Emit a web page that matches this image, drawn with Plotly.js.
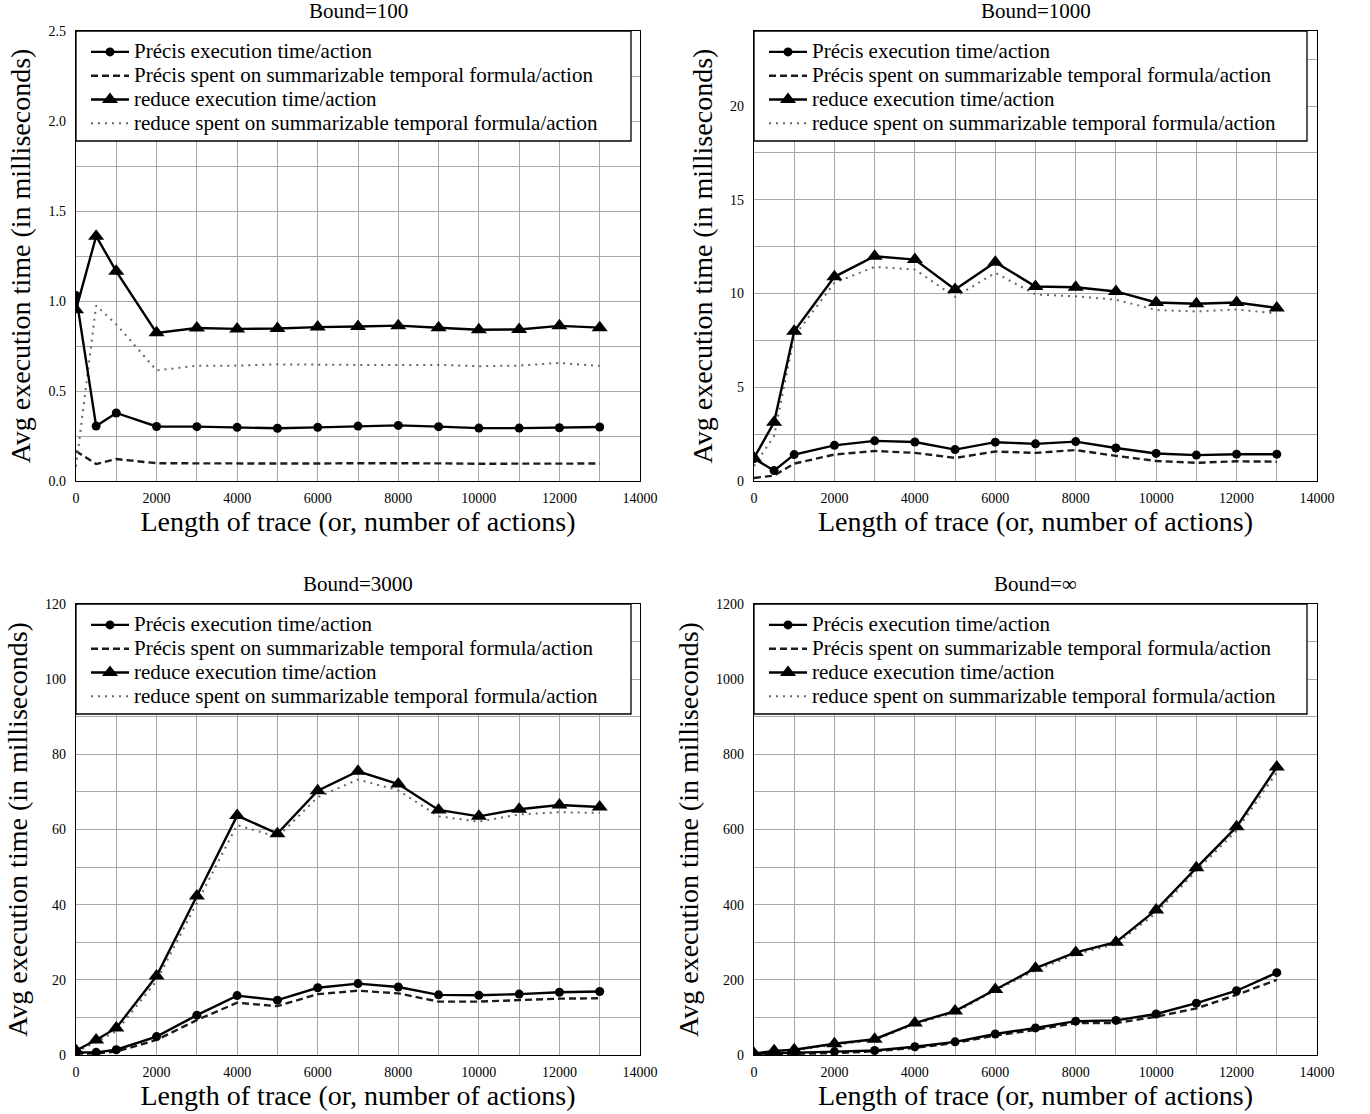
<!DOCTYPE html>
<html>
<head>
<meta charset="utf-8">
<script src="https://cdn.plot.ly/plotly-3.0.1.min.js"></script>
<style>html,body{margin:0;padding:0;background:#fff}#chart{width:1370px;height:1114px}</style>
</head>
<body>
<div id="chart"></div>
<script>
// ---------- data ----------
const traceLength = [0, 500, 1000, 2000, 3000, 4000, 5000, 6000, 7000, 8000, 9000, 10000, 11000, 12000, 13000];

const seriesNames = [
  'Précis execution time/action',
  'Précis spent on summarizable temporal formula/action',
  'reduce execution time/action',
  'reduce spent on summarizable temporal formula/action'
];

const panelTitles = ['Bound=100', 'Bound=1000', 'Bound=3000', 'Bound=∞'];
const xAxisTitle = 'Length of trace (or, number of actions)';
const yAxisTitle = 'Avg execution time (in milliseconds)';

// Bound = 100
const b100PrecisExec  = [1.03, 0.305, 0.378, 0.303, 0.302, 0.298, 0.293, 0.298, 0.305, 0.309, 0.302, 0.294, 0.294, 0.296, 0.300];
const b100PrecisSpent = [0.166, 0.094, 0.122, 0.099, 0.098, 0.097, 0.096, 0.097, 0.099, 0.100, 0.098, 0.096, 0.096, 0.097, 0.097];
const b100ReduceExec  = [0.952, 1.36, 1.165, 0.823, 0.850, 0.845, 0.847, 0.855, 0.858, 0.863, 0.851, 0.840, 0.842, 0.862, 0.852];
const b100ReduceSpent = [0.08, 0.975, 0.87, 0.615, 0.640, 0.641, 0.648, 0.645, 0.645, 0.645, 0.645, 0.638, 0.641, 0.656, 0.639];

// Bound = 1000
const b1000PrecisExec  = [1.2, 0.555, 1.41, 1.9, 2.14, 2.08, 1.675, 2.07, 1.98, 2.1, 1.76, 1.47, 1.38, 1.43, 1.43];
const b1000PrecisSpent = [0.16, 0.29, 0.93, 1.41, 1.6, 1.5, 1.23, 1.57, 1.5, 1.65, 1.34, 1.07, 0.97, 1.05, 1.03];
const b1000ReduceExec  = [1.23, 3.13, 7.99, 10.89, 11.99, 11.81, 10.21, 11.67, 10.37, 10.33, 10.11, 9.52, 9.45, 9.52, 9.23];
const b1000ReduceSpent = [0.8, 2.4, 7.72, 10.57, 11.42, 11.28, 9.82, 11.1, 9.95, 9.85, 9.67, 9.12, 9.04, 9.15, 8.93];

// Bound = 3000
const b3000PrecisExec  = [0.7, 0.7, 1.4, 4.9, 10.6, 15.8, 14.6, 17.9, 19.0, 18.1, 16.0, 15.9, 16.2, 16.7, 16.9];
const b3000PrecisSpent = [0.4, 0.4, 0.9, 4.0, 9.3, 13.9, 13.0, 16.2, 17.1, 16.4, 14.2, 14.2, 14.6, 15.0, 15.1];
const b3000ReduceExec  = [1.2, 4.0, 7.2, 21.0, 42.3, 63.7, 58.9, 70.3, 75.5, 72.1, 65.2, 63.5, 65.4, 66.5, 66.0];
const b3000ReduceSpent = [0.7, 3.5, 6.3, 19.7, 40.4, 61.2, 58.0, 68.6, 73.3, 70.4, 63.5, 62.1, 64.0, 64.6, 64.4];

// Bound = infinity
const bInfPrecisExec  = [3, 5, 6, 9, 12, 22, 35, 56, 72, 90, 92, 109, 138, 171, 219];
const bInfPrecisSpent = [1, 2, 3, 5, 10, 19, 32, 52, 67, 85, 85, 102, 124, 160, 200];
const bInfReduceExec  = [4, 11, 14, 30, 42, 85, 117, 174, 231, 273, 300, 386, 498, 607, 766];
const bInfReduceSpent = [2, 8, 12, 27, 40, 82, 113, 172, 225, 268, 295, 378, 490, 597, 752];

// ---------- layout helpers ----------
const W = 1370, H = 1114;
const FONT = 'Liberation Serif, Times New Roman, serif';
const GRID = '#a8a8a8';

const panels = [
  {series: [b100PrecisExec, b100PrecisSpent, b100ReduceExec, b100ReduceSpent],
   yRange: [0, 2.5], yDtick: 0.5, yMinor: 0.25, yFormat: '.1f', box: [76, 640, 31, 481], legRight: 631},
  {series: [b1000PrecisExec, b1000PrecisSpent, b1000ReduceExec, b1000ReduceSpent],
   yRange: [0, 24], yDtick: 5, yMinor: 2.5, yFormat: 'd', box: [754, 1317, 31, 481], legRight: 1307},
  {series: [b3000PrecisExec, b3000PrecisSpent, b3000ReduceExec, b3000ReduceSpent],
   yRange: [0, 120], yDtick: 20, yMinor: 10, yFormat: 'd', box: [76, 640, 604, 1055], legRight: 631},
  {series: [bInfPrecisExec, bInfPrecisSpent, bInfReduceExec, bInfReduceSpent],
   yRange: [0, 1200], yDtick: 200, yMinor: 100, yFormat: 'd', box: [754, 1317, 604, 1055], legRight: 1307}
];

const styles = [
  {mode: 'lines+markers', line: {color: '#000', width: 2.4}, marker: {symbol: 'circle', size: 9, color: '#000'}, rank: 1},
  {mode: 'lines', line: {color: '#1c1c1c', width: 2.4, dash: '7px,4px'}, rank: 2},
  {mode: 'lines+markers', line: {color: '#000', width: 2.4}, marker: {symbol: 'triangle-up', size: 14, color: '#000'}, rank: 3},
  {mode: 'lines', line: {color: '#666', width: 2, dash: '2px,5px'}, rank: 4}
];
const drawOrder = [1, 3, 0, 2];

const traces = [];
const layout = {
  width: W, height: H,
  margin: {l: 0, r: 0, t: 0, b: 0},
  paper_bgcolor: '#fff', plot_bgcolor: '#fff',
  font: {family: FONT, color: '#000'},
  annotations: [], shapes: []
};

panels.forEach((p, k) => {
  const s = k === 0 ? '' : String(k + 1);
  const legName = k === 0 ? 'legend' : 'legend' + (k + 1);
  drawOrder.forEach(i => {
    const st = styles[i];
    const t = {
      type: 'scatter', x: traceLength, y: p.series[i],
      name: '<span style="font-size:21px">' + seriesNames[i] + '</span>',
      mode: st.mode, line: st.line, xaxis: 'x' + s, yaxis: 'y' + s,
      legend: legName, legendrank: st.rank, hoverinfo: 'skip'
    };
    if (st.marker) t.marker = st.marker;
    traces.push(t);
  });
  const [x0, x1, yt, yb] = p.box;
  layout['xaxis' + s] = {
    domain: [x0 / W, x1 / W], anchor: 'y' + s,
    range: [0, 14000], tick0: 0, dtick: 2000, tickformat: 'd',
    showgrid: true, gridcolor: GRID, gridwidth: 1,
    minor: {dtick: 1000, tick0: 0, showgrid: true, gridcolor: GRID, gridwidth: 1, ticks: ''},
    showline: true, mirror: true, linecolor: '#000', linewidth: 1.3,
    zeroline: false, ticks: '', automargin: false, ticklabelstandoff: 4,
    tickfont: {family: FONT, size: 14, color: '#000'},
    title: {text: xAxisTitle, font: {family: FONT, size: 28, color: '#000'}, standoff: 5}
  };
  layout['yaxis' + s] = {
    domain: [1 - yb / H, 1 - yt / H], anchor: 'x' + s,
    range: p.yRange, tick0: 0, dtick: p.yDtick, tickformat: p.yFormat,
    showgrid: true, gridcolor: GRID, gridwidth: 1,
    minor: {dtick: p.yMinor, tick0: 0, showgrid: true, gridcolor: GRID, gridwidth: 1, ticks: ''},
    showline: true, mirror: true, linecolor: '#000', linewidth: 1.3,
    zeroline: false, ticks: '', automargin: false, ticklabelstandoff: 6,
    tickfont: {family: FONT, size: 14, color: '#000'},
    title: {text: yAxisTitle, font: {family: FONT, size: 28, color: '#000'}, standoff: 9}
  };
  layout[legName] = {
    x: (x0 + 10) / W, y: 1 - (yt + 4) / H, xanchor: 'left', yanchor: 'top',
    bgcolor: 'rgba(0,0,0,0)', borderwidth: 0, itemwidth: 38,
    font: {family: FONT, size: 16, color: '#000'}
  };
  layout.shapes.push({
    type: 'rect', xref: 'paper', yref: 'paper', layer: 'above',
    x0: x0 / W, x1: p.legRight / W, y0: 1 - yt / H, y1: 1 - (yt + 110) / H,
    fillcolor: '#fff', line: {color: '#000', width: 1.3}
  });
  layout.annotations.push({
    text: panelTitles[k], xref: 'paper', yref: 'paper',
    x: (x0 + x1) / 2 / W, y: 1 - (yt - 20) / H, xanchor: 'center', yanchor: 'middle',
    showarrow: false, font: {family: FONT, size: 21, color: '#000'}
  });
});

Plotly.newPlot('chart', traces, layout, {staticPlot: true, displayModeBar: false});
</script>
</body>
</html>
